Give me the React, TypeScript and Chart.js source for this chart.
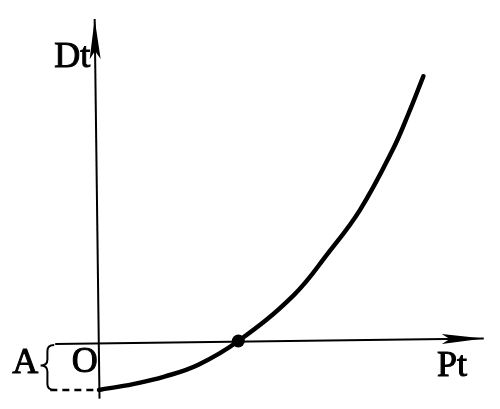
import React, { useEffect, useRef } from "react";
import { Chart, registerables } from "chart.js";

Chart.register(...registerables);

// Demand curve Dt as a function of Pt (arbitrary units)
const curveP = [0, 3.5, 6.8, 10.2, 14.3, 20, 23.5, 26.8, 30.2, 31.8, 33.3];
const curveD = [-4.9, -4.3, -3.5, -2.3, 0.15, 4.9, 9.2, 13.7, 20.0, 23.7, 27.5];
// marked point where the curve crosses the Pt axis
const crossP = [14.3];
const crossD = [0.15];
// intercept A on the Dt axis
const interceptA = -4.9;
// axes extents (the scan is slightly tilted)
const yAxisP = [0.05, -0.45];
const yAxisD = [-5.8, 33.4];
const xAxisP = [-4.5, 39.5];
const xAxisD = [-0.15, 0.4];
const dashP = [-5.0, 0];
const labels = { yLabel: "Dt", xLabel: "Pt", origin: "O", intercept: "A" };

const toPts = (xs: number[], ys: number[]) => xs.map((v, i) => ({ x: v, y: ys[i] }));

function arrowHead(ctx: CanvasRenderingContext2D, bx: number, by: number, tx: number, ty: number, L: number, W: number, notch: number) {
  const dx = tx - bx, dy = ty - by;
  const len = Math.hypot(dx, dy);
  const ux = dx / len, uy = dy / len;
  const nx = -uy, ny = ux;
  ctx.beginPath();
  ctx.moveTo(tx, ty);
  ctx.lineTo(tx - ux * L + nx * W, ty - uy * L + ny * W);
  ctx.lineTo(tx - ux * (L - notch), ty - uy * (L - notch));
  ctx.lineTo(tx - ux * L - nx * W, ty - uy * L - ny * W);
  ctx.closePath();
  ctx.fill();
}

const overlay = {
  id: "overlay",
  afterDatasetsDraw(chart: any) {
    const { ctx, scales } = chart;
    const px = (v: number) => scales.x.getPixelForValue(v);
    const py = (v: number) => scales.y.getPixelForValue(v);
    ctx.save();
    ctx.fillStyle = "#000";
    ctx.strokeStyle = "#000";
    // arrow heads
    arrowHead(ctx, px(yAxisP[0]), py(yAxisD[0]), px(yAxisP[1]), py(yAxisD[1]), 40, 5.5, 8);
    arrowHead(ctx, px(xAxisP[0]), py(xAxisD[0]), px(xAxisP[1]), py(xAxisD[1]), 42, 5, 8);

    // brace for A
    const top = py(0) + 2.5;
    const bot = py(interceptA);
    const mid = (top + bot) / 2 - 2;
    const bx = px(-5.3);
    const cx = px(-6.0);
    const ex = px(-4.6);
    ctx.lineWidth = 2;
    ctx.beginPath();
    ctx.moveTo(ex, top);
    ctx.quadraticCurveTo(bx, top, bx, top + 6);
    ctx.lineTo(bx, mid - 6);
    ctx.quadraticCurveTo(bx, mid, cx, mid);
    ctx.quadraticCurveTo(bx, mid, bx, mid + 6);
    ctx.lineTo(bx, bot - 6);
    ctx.quadraticCurveTo(bx, bot, ex, bot);
    ctx.stroke();

    // text labels (regular serif, lightly stroked to mimic the printed weight)
    ctx.font = "36px 'Liberation Serif', serif";
    ctx.textBaseline = "alphabetic";
    ctx.textAlign = "left";
    ctx.lineWidth = 1;
    const put = (t: string, x: number, y: number) => {
      ctx.fillText(t, x, y);
      ctx.strokeText(t, x, y);
    };
    put(labels.yLabel, px(-4.6), py(28.4));
    put(labels.xLabel, px(34.7), py(-3.5));
    put(labels.intercept, px(-8.9), py(-3.2));
    put(labels.origin, px(-2.8), py(-3.1));
    ctx.restore();
  },
};

export default function App() {
  const ref = useRef<HTMLCanvasElement>(null);
  useEffect(() => {
    document.body.style.margin = "0";
    const chart = new Chart(ref.current!, {
      type: "scatter",
      data: {
        datasets: [
          {
            data: toPts(yAxisP, yAxisD),
            showLine: true,
            borderColor: "#000",
            borderWidth: 2,
            pointRadius: 0,
          },
          {
            data: toPts(xAxisP, xAxisD),
            showLine: true,
            borderColor: "#000",
            borderWidth: 2,
            pointRadius: 0,
          },
          {
            data: toPts(dashP, [interceptA, interceptA]),
            showLine: true,
            borderColor: "#000",
            borderWidth: 2.5,
            borderDash: [7, 5],
            pointRadius: 0,
          },
          {
            data: toPts(curveP, curveD),
            showLine: true,
            borderColor: "#000",
            borderWidth: 4.5,
            borderCapStyle: "round",
            tension: 0.4,
            pointRadius: 0,
          },
          {
            data: toPts(crossP, crossD),
            showLine: false,
            pointRadius: 6.5,
            backgroundColor: "#000",
            borderColor: "#000",
            borderWidth: 0,
          },
        ],
      },
      options: {
        responsive: false,
        animation: false,
        events: [],
        layout: { padding: 0 },
        plugins: { legend: { display: false }, tooltip: { enabled: false } },
        scales: {
          x: { type: "linear", min: -9.5, max: 40.5, display: false },
          y: { type: "linear", min: -6.2, max: 34.7, display: false },
        },
      },
      plugins: [overlay],
    } as any);
    return () => chart.destroy();
  }, []);
  return (
    <div style={{ width: 500, height: 409 }}>
      <canvas ref={ref} width={500} height={409} style={{ display: "block" }} />
    </div>
  );
}
